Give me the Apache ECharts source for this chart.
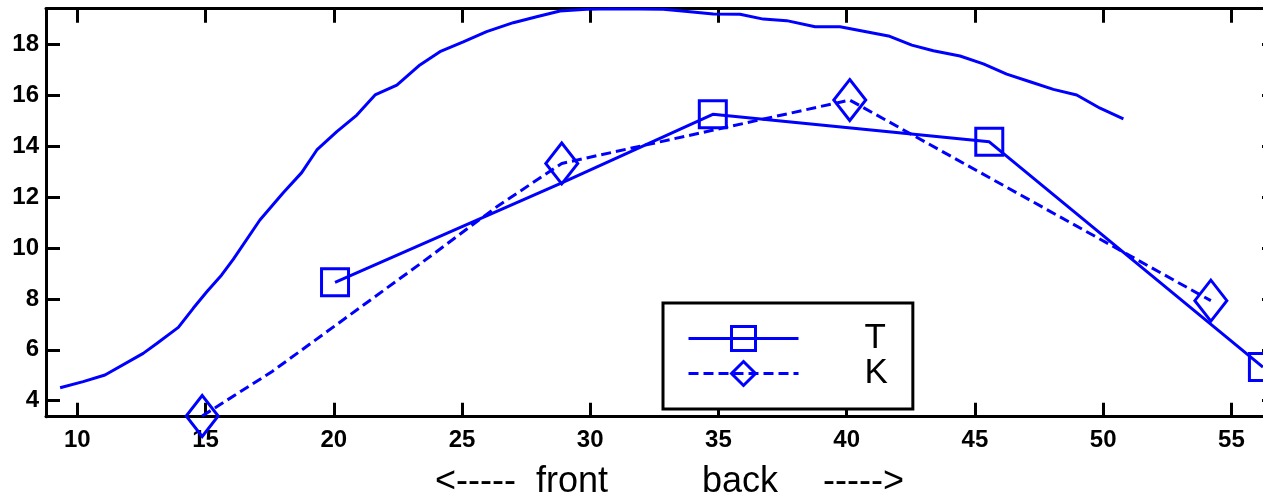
<!DOCTYPE html>
<html>
<head>
<meta charset="utf-8">
<script src="https://cdn.jsdelivr.net/npm/echarts@6/dist/echarts.min.js"></script>
<style>
  html, body { margin: 0; padding: 0; background: #ffffff; }
  #chart { width: 1263px; height: 497px; }
</style>
</head>
<body>
<div id="chart"></div>
<script>
// ---- data ----
const xTicks = [10, 15, 20, 25, 30, 35, 40, 45, 50, 55];
const yTicks = [4, 6, 8, 10, 12, 14, 16, 18];
const axisTitleParts = ['<-----', 'front', 'back', '----->'];

const curveX = [9.33, 10.23, 11.08, 12.57, 13.10, 13.94, 14.52, 15.05, 15.63, 16.08, 17.12, 18.03, 18.75, 19.34, 20.12, 20.90, 21.61, 22.46, 23.36, 24.14, 25.05, 25.96, 27.00, 27.91, 28.82, 29.86, 30.90, 31.94, 32.85, 33.89, 34.80, 35.84, 36.75, 37.66, 38.77, 39.74, 41.63, 42.54, 43.38, 44.42, 45.33, 46.24, 47.15, 48.06, 48.97, 49.88, 50.79];
const curveY = [4.51, 4.75, 5.01, 5.86, 6.25, 6.88, 7.63, 8.28, 8.94, 9.55, 11.10, 12.17, 12.96, 13.85, 14.57, 15.22, 16.01, 16.40, 17.19, 17.71, 18.10, 18.50, 18.85, 19.08, 19.31, 19.38, 19.40, 19.39, 19.38, 19.28, 19.19, 19.18, 18.99, 18.93, 18.69, 18.69, 18.33, 17.97, 17.75, 17.54, 17.23, 16.83, 16.53, 16.23, 16.01, 15.49, 15.07];

const tName = 'T';
const tX = [20.05, 28.89, 34.78, 45.56, 56.23];
const tY = [8.65, 12.56, 15.25, 14.17, 5.32];
const tMarked = [true, false, true, true, true];

const kName = 'K';
const kX = [14.87, 17.60, 23.40, 26.40, 28.89, 40.12, 54.20];
const kY = [3.40, 5.15, 9.40, 11.65, 13.32, 15.81, 7.93];
const kMarked = [true, false, false, false, true, true, true];

// ---- build ----
const BLUE = '#0000ff';
const FONT = "'Liberation Sans', Arial, Helvetica, sans-serif";

function pts(xs, ys, marked) {
  return xs.map((x, i) => (marked && !marked[i]) ? { value: [x, ys[i]], symbol: 'none' } : [x, ys[i]]);
}

const axisLineStyle = { show: true, lineStyle: { color: '#000', width: 3 } };
const tickStyle = (vals) => ({ show: true, inside: true, length: 14, customValues: vals, lineStyle: { color: '#000', width: 3 } });

const chart = echarts.init(document.getElementById('chart'), null, { renderer: 'canvas' });
chart.setOption({
  animation: false,
  backgroundColor: '#ffffff',
  grid: { left: 46, top: 8.7, right: -13, bottom: 80.3, containLabel: false, outerBoundsMode: 'none' },
  xAxis: [
    {
      type: 'value', position: 'bottom', min: 8.78, max: 56.74,
      axisLine: axisLineStyle, axisTick: tickStyle(xTicks), splitLine: { show: false },
      axisLabel: { customValues: xTicks, margin: 12, color: '#000', fontSize: 24, fontWeight: 'bold', fontFamily: FONT }
    },
    {
      type: 'value', position: 'top', min: 8.78, max: 56.74,
      axisLine: axisLineStyle, axisTick: tickStyle(xTicks), splitLine: { show: false },
      axisLabel: { show: false }
    }
  ],
  yAxis: [
    {
      type: 'value', position: 'left', min: 3.372, max: 19.399,
      axisLine: axisLineStyle, axisTick: tickStyle(yTicks), splitLine: { show: false },
      axisLabel: { customValues: yTicks, margin: 7, color: '#000', fontSize: 24, fontWeight: 'bold', fontFamily: FONT }
    },
    {
      type: 'value', position: 'right', min: 3.372, max: 19.399,
      axisLine: axisLineStyle, axisTick: tickStyle(yTicks), splitLine: { show: false },
      axisLabel: { show: false }
    }
  ],
  legend: {
    data: [tName, kName],
    orient: 'vertical',
    left: 663, top: 303,
    padding: [18, 25, 18, 24],
    itemGap: 0,
    itemWidth: 110, itemHeight: 30,
    borderColor: '#000', borderWidth: 3, backgroundColor: '#fff',
    lineStyle: { color: BLUE, width: 3 },
    itemStyle: { color: 'rgba(0,0,0,0)', borderColor: BLUE, borderWidth: 3 },
    textStyle: { color: '#000', fontSize: 35, fontFamily: FONT, lineHeight: 32, padding: [0, 0, 0, 61] },
    selectedMode: false
  },
  graphic: [
    { type: 'text', x: 435, y: 482, style: { text: axisTitleParts[0], font: "36px 'Liberation Sans', Arial, sans-serif", fill: '#000', align: 'left', verticalAlign: 'middle' } },
    { type: 'text', x: 536, y: 482, style: { text: axisTitleParts[1], font: "36px 'Liberation Sans', Arial, sans-serif", fill: '#000', align: 'left', verticalAlign: 'middle' } },
    { type: 'text', x: 702, y: 482, style: { text: axisTitleParts[2], font: "36px 'Liberation Sans', Arial, sans-serif", fill: '#000', align: 'left', verticalAlign: 'middle' } },
    { type: 'text', x: 823, y: 482, style: { text: axisTitleParts[3], font: "36px 'Liberation Sans', Arial, sans-serif", fill: '#000', align: 'left', verticalAlign: 'middle' } }
  ],
  series: [
    {
      name: 'curve', type: 'line', data: pts(curveX, curveY, null),
      symbol: 'none', lineStyle: { color: BLUE, width: 3 }, itemStyle: { color: BLUE },
      emphasis: { disabled: true }, z: 2
    },
    {
      name: tName, type: 'line', data: pts(tX, tY, tMarked),
      symbol: 'rect', symbolSize: 27,
      lineStyle: { color: BLUE, width: 3, type: 'solid' },
      itemStyle: { color: 'rgba(0,0,0,0)', borderColor: BLUE, borderWidth: 3 },
      emphasis: { disabled: true }, z: 3
    },
    {
      name: kName, type: 'line', data: pts(kX, kY, kMarked),
      symbol: 'diamond', symbolSize: [32, 41],
      lineStyle: { color: BLUE, width: 3, type: [10, 5] },
      itemStyle: { color: 'rgba(0,0,0,0)', borderColor: BLUE, borderWidth: 3 },
      emphasis: { disabled: true }, z: 3
    }
  ]
});
</script>
</body>
</html>
